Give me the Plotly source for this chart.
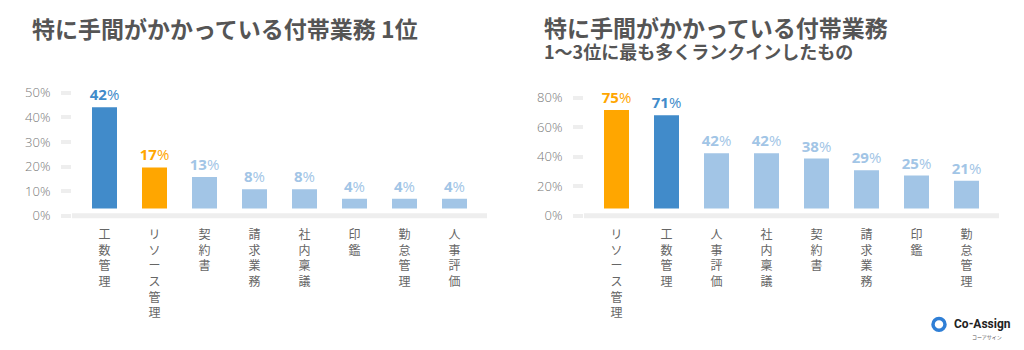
import plotly.graph_objects as go

# ---- data ----
cats_left = ["工数管理", "リソース管理", "契約書", "請求業務", "社内稟議", "印鑑", "勤怠管理", "人事評価"]
vals_left = [42, 17, 13, 8, 8, 4, 4, 4]
cats_right = ["リソース管理", "工数管理", "人事評価", "社内稟議", "契約書", "請求業務", "印鑑", "勤怠管理"]
vals_right = [75, 71, 42, 42, 38, 29, 25, 21]
ticks_left = [0, 10, 20, 30, 40, 50]
ticks_right = [0, 20, 40, 60, 80]
title_left = "特に手間がかかっている付帯業務 1位"
title_right = "特に手間がかかっている付帯業務"
subtitle_right = "1〜3位に最も多くランクインしたもの"

DARK = "#418bca"
ORANGE = "#ffa600"
LIGHT = "#a2c5e6"
highlight = {"工数管理": DARK, "リソース管理": ORANGE}
col_left = [highlight.get(c, LIGHT) for c in cats_left]
col_right = [highlight.get(c, LIGHT) for c in cats_right]

W, H = 1024, 350
def px_x(p): return p / W
def px_y(p): return 1 - p / H

NUMFONT = "Open Sans"
CJK = "Noto Sans CJK JP"

fig = go.Figure()
for cats, vals, cols, xa, ya in [(cats_left, vals_left, col_left, "x", "y"),
                                 (cats_right, vals_right, col_right, "x2", "y3")]:
    fig.add_trace(go.Bar(
        x=cats, y=vals, xaxis=xa, yaxis=ya, width=0.5,
        marker=dict(color=cols, line=dict(width=0)),
        texttemplate="<b>%{y}</b>%", textposition="outside",
        textfont=dict(color=cols, size=15, family=NUMFONT),
        constraintext="none", cliponaxis=False, showlegend=False,
        hoverinfo="skip"))

ydom = [px_y(222), px_y(85)]
def cat_axis(dom, cats, anchor):
    return dict(domain=dom, anchor=anchor, type="category", range=[-0.65, 7.65],
                tickmode="array", tickvals=cats,
                ticktext=["<br>".join(list(c)) for c in cats],
                tickfont=dict(family=CJK, size=12, color="#666666"),
                showline=False, showgrid=False, zeroline=False, ticks="",
                ticklabelstandoff=6)

def tick_axis(overlay, anchor, rng, tv):
    return dict(overlaying=overlay, anchor=anchor, side="left", range=rng,
                tickmode="array", tickvals=tv, ticktext=[f"{t}%" for t in tv],
                ticks="outside", ticklen=10, tickwidth=4, tickcolor="#eeeeee",
                tickfont=dict(family=NUMFONT, size=13, color="#777777", weight=300),
                ticklabelstandoff=8,
                showgrid=False, zeroline=False, showline=False)

fig.update_layout(
    width=W, height=H, margin=dict(l=0, r=0, t=0, b=0),
    paper_bgcolor="white", plot_bgcolor="white",
    xaxis=cat_axis([px_x(72), px_x(487)], cats_left, "y"),
    xaxis2=cat_axis([px_x(584), px_x(999)], cats_right, "y3"),
    yaxis=dict(domain=ydom, anchor="x", range=[-4.9, 51.02], visible=False),
    yaxis2=tick_axis("y", "x", [-1.8, 53], ticks_left),
    yaxis3=dict(domain=ydom, anchor="x2", range=[-9.0, 93.7], visible=False),
    yaxis4=tick_axis("y3", "x2", [-3.0, 88.33], ticks_right),
    bargap=0.5,
)

# baselines
for xr, yr in [("x domain", "y2"), ("x2 domain", "y4")]:
    fig.add_shape(type="line", xref=xr, yref=yr, x0=0, x1=1, y0=0, y1=0,
                  line=dict(color="#eeeeee", width=5), layer="below")

# titles
fig.add_annotation(text=f"<b>{title_left}</b>", xref="paper", yref="paper",
                   x=px_x(30), y=px_y(26), xanchor="left", yanchor="middle",
                   showarrow=False, font=dict(family=CJK, size=23, color="#555555"))
fig.add_annotation(text=f"<b>{title_right}</b>", xref="paper", yref="paper",
                   x=px_x(542), y=px_y(25), xanchor="left", yanchor="middle",
                   showarrow=False, font=dict(family=CJK, size=23, color="#555555"))
fig.add_annotation(text=f"<b>{subtitle_right}</b>", xref="paper", yref="paper",
                   x=px_x(542), y=px_y(50), xanchor="left", yanchor="middle",
                   showarrow=False, font=dict(family=CJK, size=18, color="#555555"))

# logo
fig.add_shape(type="circle", xref="paper", yref="paper",
              x0=px_x(933), x1=px_x(945), y0=px_y(334), y1=px_y(322),
              line=dict(color="#2f7fd6", width=3.5))
fig.add_annotation(text="<b>Co-Assign</b>", xref="paper", yref="paper",
                   x=px_x(952), y=px_y(328), xanchor="left", yanchor="middle",
                   showarrow=False, font=dict(family="Roboto", size=12, color="#222222"))
fig.add_annotation(text="コーアサイン", xref="paper", yref="paper",
                   x=px_x(1004), y=px_y(341), xanchor="right", yanchor="middle",
                   showarrow=False, font=dict(family=CJK, size=5, color="#555555"))

fig.write_html("out.html")
